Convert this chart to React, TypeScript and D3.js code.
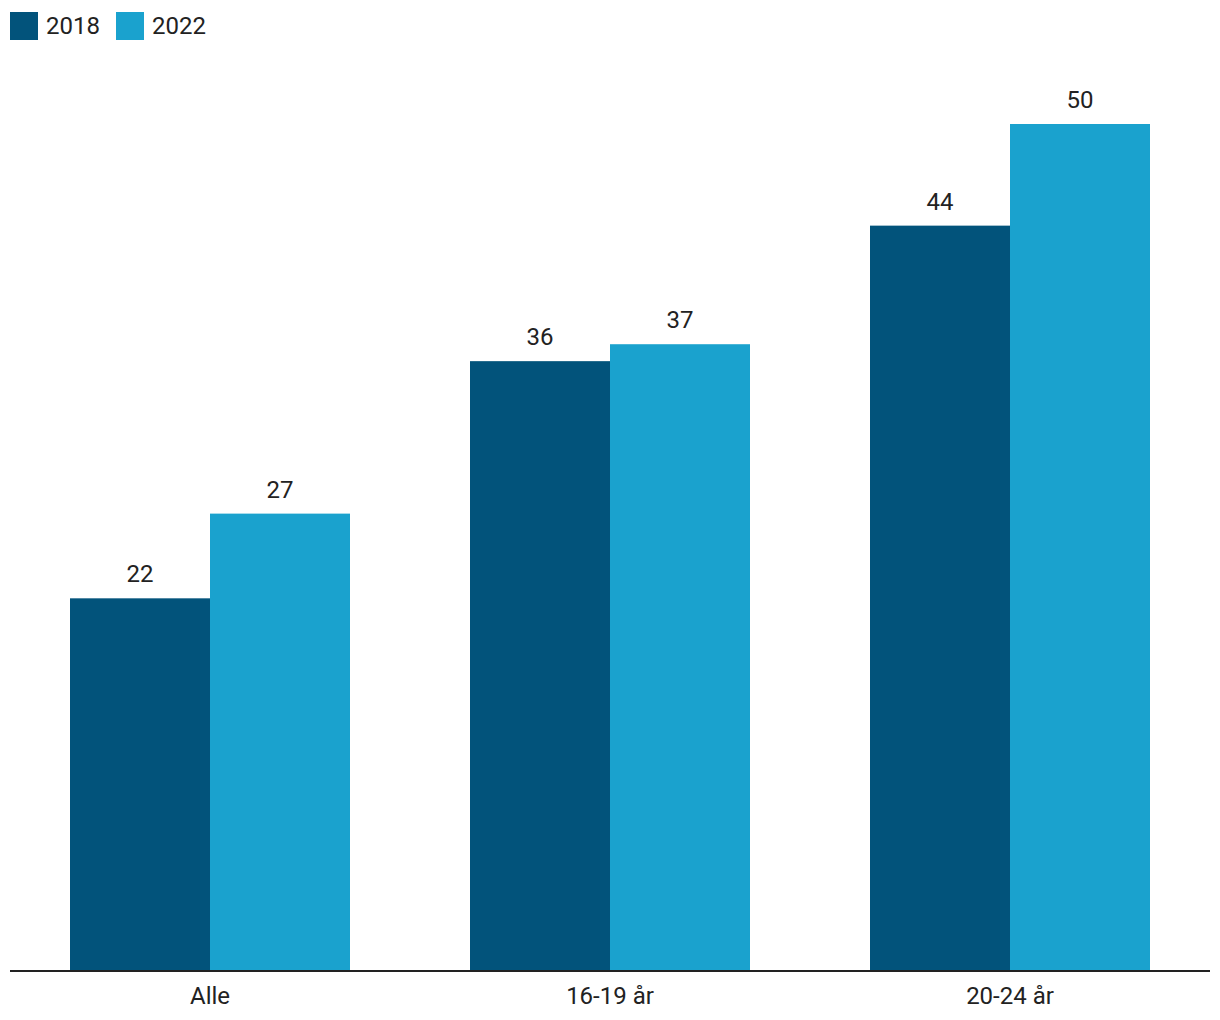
import * as d3 from 'd3';

const categories = ['Alle', '16-19 år', '20-24 år'];
const seriesNames = ['2018', '2022'];
const values2018 = [22, 36, 44];
const values2022 = [27, 37, 50];
const colors = ['#02537b', '#1aa2ce'];

const W = 1220;
const H = 1020;
const FONT = 'Roboto, sans-serif';

export default function App() {
  const x = d3.scaleBand<string>().domain(categories).range([10, 1210]).paddingInner(0.3).paddingOuter(0.15);
  const xs = d3.scaleBand<string>().domain(seriesNames).range([0, x.bandwidth()]);
  const y = d3.scaleLinear().domain([0, 50]).range([971, 124]);
  const series = [values2018, values2022];

  return (
    <svg width={W} height={H} style={{ position: 'absolute', left: 0, top: 0, fontFamily: FONT }}>
      <rect width={W} height={H} fill="#fff" />
      {/* legend */}
      {seriesNames.map((s, i) => (
        <g key={s} transform={`translate(${10 + i * 106},12)`}>
          <rect width={28} height={28} fill={colors[i]} />
          <text x={36} y={22} fontSize={24} fill="#222">{s}</text>
        </g>
      ))}
      {categories.map((c, ci) => (
        <g key={c} transform={`translate(${x(c)},0)`}>
          {series.map((vals, si) => {
            const v = vals[ci];
            const bx = xs(seriesNames[si]) ?? 0;
            return (
              <g key={si}>
                <rect x={bx} y={y(v)} width={xs.bandwidth()} height={y(0) - y(v)} fill={colors[si]} />
                <text x={bx + xs.bandwidth() / 2} y={y(v) - 16} textAnchor="middle" fontSize={24} fill="#222">{v}</text>
              </g>
            );
          })}
          <text x={x.bandwidth() / 2} y={1004} textAnchor="middle" fontSize={24} fill="#222">{c}</text>
        </g>
      ))}
      <line x1={10} x2={1210} y1={971} y2={971} stroke="#222" strokeWidth={2} />
    </svg>
  );
}
